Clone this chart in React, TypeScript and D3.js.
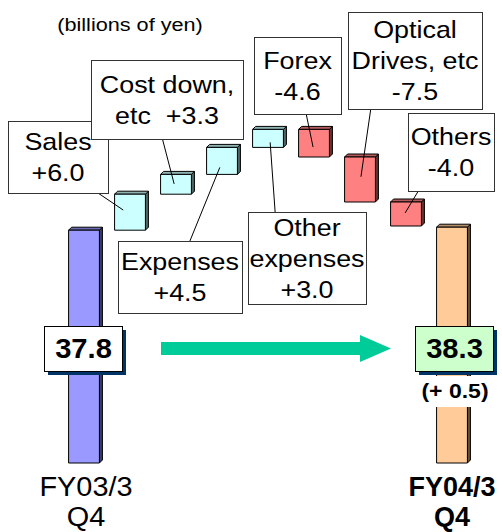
import React from 'react';
import * as d3 from 'd3';

// waterfall data, billions of yen
const categories = ['FY03/3 Q4', 'Sales', 'Cost down, etc', 'Expenses', 'Other expenses', 'Forex', 'Optical Drives, etc', 'Others', 'FY04/3 Q4'];
const startValue = 37.8;
const endValue = 38.3;
const deltas = [6.0, 3.3, 4.5, 3.0, -4.6, -7.5, -4.0];
const changeLabel = '(+ 0.5)';
const startLabel = ['FY03/3', 'Q4'];
const endLabel = ['FY04/3', 'Q4'];

const labelLines = [
  ['Sales', '+6.0'],
  ['Cost down,', 'etc  +3.3'],
  ['Expenses', '+4.5'],
  ['Other', 'expenses', '+3.0'],
  ['Forex', '-4.6'],
  ['Optical', 'Drives, etc', '-7.5'],
  ['Others', '-4.0'],
];

// callout boxes: box x, y, w, h, where the leader leaves the box, where it ends in the bar
const callouts = [
  { box: [8, 121, 100, 72], from: [0.9, 'bottom'], tip: [0.28, 0.44] },
  { box: [91, 60, 152, 79], from: [0.47, 'bottom'], tip: [0.44, 0.48] },
  { box: [118, 241, 124, 72], from: [0.58, 'top'], tip: [0.43, 0.74] },
  { box: [248, 212, 118, 92], from: [0.23, 'top'], tip: [0.57, 0.72] },
  { box: [254, 37, 87, 77], from: [0.6, 'bottom'], tip: [0.47, 0.64] },
  { box: [348, 12, 134, 97], from: [0.17, 'bottom'], tip: [0.53, 0.44] },
  { box: [408, 113, 86, 78], from: [0.12, 'bottom'], tip: [0.47, 0.46] },
];

const W = 502;
const H = 532;
const FONT = '"Liberation Sans", Arial, sans-serif';
const DEPTH = 3;

// the original slide text is a bit wider than Arial, so stretch it sideways
const Label: React.FC<{ x: number; y: number; size: number; sx?: number; bold?: boolean; children: React.ReactNode }> =
  ({ x, y, size, sx = 1.1, bold, children }) => (
    <text transform={`translate(${x},${y}) scale(${sx},1)`} fontSize={size} fontWeight={bold ? 'bold' : 'normal'}
      textAnchor="middle" fill="#000" style={{ whiteSpace: 'pre' }}>{children}</text>
  );

const Bar3D: React.FC<{ x: number; y0: number; y1: number; w: number; fill: string }> = ({ x, y0, y1, w, fill }) => {
  const top = d3.color(fill)!.darker(1).formatHex();
  const side = d3.color(fill)!.darker(2.6).formatHex();
  const d = DEPTH;
  return (
    <g stroke="#000" strokeWidth={1} strokeLinejoin="round">
      <polygon points={`${x + w},${y0} ${x + w + d},${y0 - d} ${x + w + d},${y1 - d} ${x + w},${y1}`} fill={side} />
      <polygon points={`${x},${y0} ${x + d},${y0 - d} ${x + w + d},${y0 - d} ${x + w},${y0}`} fill={top} />
      <rect x={x} y={y0} width={w} height={y1 - y0} fill={fill} />
    </g>
  );
};

export default function App() {
  const x = d3.scaleBand<string>().domain(categories).range([61, 475]).paddingInner(0.33).paddingOuter(0.165);
  const y = d3.scaleLinear().domain([-1, 60]).range([463, 97]);
  const bw = x.bandwidth();

  // running totals for the floating bars
  let run = startValue;
  const steps = deltas.map((d, i) => {
    const from = run;
    run += d;
    return { cat: categories[i + 1], from, to: run, d };
  });

  const base = y.domain()[0];

  return (
    <svg width={W} height={H} style={{ position: 'absolute', left: 0, top: 0, background: '#fff' }} fontFamily={FONT}>
      <Label x={130} y={31} size={19} sx={1.14}>(billions of yen)</Label>

      {/* totals */}
      <Bar3D x={x(categories[0])!} y0={y(startValue)} y1={y(base)} w={bw} fill="#9999ff" />
      <Bar3D x={x(categories[8])!} y0={y(endValue)} y1={y(base)} w={bw} fill="#ffcc99" />

      {/* changes */}
      {steps.map(s => (
        <Bar3D key={s.cat} x={x(s.cat)!} y0={y(Math.max(s.from, s.to))} y1={y(Math.min(s.from, s.to))} w={bw}
          fill={s.d >= 0 ? '#ccffff' : '#ff8080'} />
      ))}

      {/* leader lines */}
      {steps.map((s, i) => {
        const c = callouts[i];
        const [bx, by, bwid, bh] = c.box as number[];
        const sx = bx + bwid * (c.from[0] as number);
        const sy = c.from[1] === 'top' ? by : by + bh;
        const yTop = y(Math.max(s.from, s.to));
        const yBot = y(Math.min(s.from, s.to));
        const tx = x(s.cat)! + bw * c.tip[0];
        const ty = yTop + (yBot - yTop) * c.tip[1];
        return <line key={s.cat} x1={sx} y1={sy} x2={tx} y2={ty} stroke="#000" strokeWidth={1} />;
      })}

      {/* callout boxes */}
      {callouts.map((c, i) => {
        const [bx, by, bwid, bh] = c.box as number[];
        const lines = labelLines[i];
        const lh = 31;
        const first = by + (bh - lines.length * lh) / 2 + 24;
        return (
          <g key={i}>
            <rect x={bx + 0.5} y={by + 0.5} width={bwid} height={bh} fill="#fff" stroke="#333" strokeWidth={1} />
            {lines.map((t, j) => (
              <Label key={j} x={bx + bwid / 2} y={first + j * lh} size={24} sx={1.12}>{t}</Label>
            ))}
          </g>
        );
      })}

      {/* arrow */}
      <polygon points="161,342 360,342 360,335 391,348.5 360,362 360,355 161,355" fill="#00cc99" />

      {/* value boxes */}
      <rect x={48} y={330} width={78} height={45} fill="#003366" />
      <rect x={44.5} y={326.5} width={78} height={45} fill="#fff" stroke="#000" strokeWidth={1} />
      <Label x={83.5} y={358} size={27} sx={1.08} bold>{startValue.toFixed(1)}</Label>

      <rect x={419} y={330} width={78} height={45} fill="#003366" />
      <rect x={415.5} y={326.5} width={78} height={45} fill="#ccffcc" stroke="#000" strokeWidth={1} />
      <Label x={454.5} y={358} size={27} sx={1.08} bold>{endValue.toFixed(1)}</Label>

      <rect x={418} y={376} width={72} height={31} fill="#fff" />
      <Label x={455} y={398} size={20} sx={1.15} bold>{changeLabel}</Label>

      {/* category labels */}
      {startLabel.map((t, j) => (
        <Label key={t} x={x(categories[0])! + bw / 2 + 2} y={496 + j * 30} size={27} sx={1.07}>{t}</Label>
      ))}
      {endLabel.map((t, j) => (
        <Label key={t} x={x(categories[8])! + bw / 2} y={496 + j * 30} size={27} sx={1.0} bold>{t}</Label>
      ))}
    </svg>
  );
}
